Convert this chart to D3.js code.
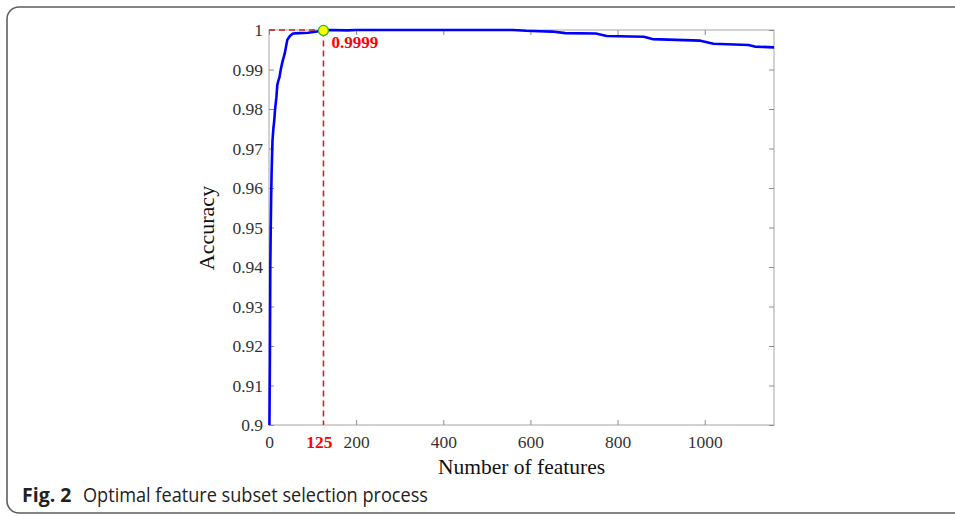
<!DOCTYPE html>
<html><head><meta charset="utf-8">
<script src="https://cdn.jsdelivr.net/npm/d3@7"></script>
<style>html,body{margin:0;padding:0;background:#fff;}svg{display:block;}</style>
</head><body>
<svg id="chart" width="955" height="516"></svg>
<script>
// ---- data ----
const featureCounts = [1,2,3,4,5,6,7,8,10,12,14,17,19,21,24,27,31,36,42,48,55,70,90,110,125,140,180,200,300,400,500,560,590,620,650,680,750,775,860,880,990,1020,1100,1115,1159];
const accuracy =      [0.900,0.915,0.940,0.950,0.958,0.964,0.968,0.972,0.975,0.977,0.980,0.983,0.986,0.987,0.988,0.990,0.992,0.994,0.9975,0.9985,0.9991,0.9992,0.9993,0.9996,0.9999,1.0,0.9999,1.0,1.0,1.0,1.0,1.0,0.9998,0.9997,0.9996,0.9992,0.9991,0.9985,0.9983,0.9977,0.9973,0.9965,0.9962,0.9958,0.9956];
const xTicks = [0,200,400,600,800,1000];
const yTicks = [0.9,0.91,0.92,0.93,0.94,0.95,0.96,0.97,0.98,0.99,1];
const optimalFeatures = [125];
const optimalAccuracy = [0.9999];
const xDomain = [0,1159];
const yDomain = [0.9,1];

const svg = d3.select("#chart");
// figure frame
svg.append("rect").attr("x",7).attr("y",7).attr("width",1010).attr("height",506)
  .attr("rx",12).attr("fill","none").attr("stroke","#5e5e5e").attr("stroke-width",1.6);

const L=269,R=774,T=30,B=425;
const x = d3.scaleLinear().domain(xDomain).range([L,R]);
const y = d3.scaleLinear().domain(yDomain).range([B,T]);
const serif = "'Liberation Serif','Times New Roman',serif";

// box
svg.append("rect").attr("x",L).attr("y",T).attr("width",R-L).attr("height",B-T)
  .attr("fill","none").attr("stroke","#a6a6a6").attr("stroke-width",1);

function styleAxis(g){
  g.select(".domain").remove();
  g.selectAll(".tick line").attr("stroke","#8c8c8c");
  g.selectAll(".tick text").attr("fill","#333").style("font-family",serif).style("font-size","17.5px");
}
const fmtY = d => d===1 ? "1" : d===0.9 ? "0.9" : d3.format(".2f")(d);
svg.append("g").attr("transform",`translate(0,${B})`)
  .call(d3.axisBottom(x).tickValues(xTicks).tickSize(-5).tickPadding(10.5).tickFormat(d3.format("d")))
  .call(styleAxis);
svg.append("g").attr("transform",`translate(0,${T})`)
  .call(d3.axisTop(x).tickValues(xTicks).tickSize(-5).tickFormat(""))
  .call(styleAxis);
svg.append("g").attr("transform",`translate(${L},0)`)
  .call(d3.axisLeft(y).tickValues(yTicks).tickSize(-5).tickPadding(6).tickFormat(fmtY))
  .call(styleAxis);
svg.append("g").attr("transform",`translate(${R},0)`)
  .call(d3.axisRight(y).tickValues(yTicks).tickSize(-5).tickFormat(""))
  .call(styleAxis);

// reference dashed lines
const ox = x(optimalFeatures[0]), oy = y(optimalAccuracy[0]);
svg.append("line").attr("x1",L).attr("x2",ox).attr("y1",y(1)).attr("y2",y(1))
  .attr("stroke","#d42020").attr("stroke-width",1.6).attr("stroke-dasharray","6,4");
svg.append("line").attr("x1",ox).attr("x2",ox).attr("y1",oy).attr("y2",B)
  .attr("stroke","#d42020").attr("stroke-width",1.6).attr("stroke-dasharray","6,4");

// curve
const line = d3.line().x((d,i)=>x(featureCounts[i])).y(d=>y(d));
svg.append("path").datum(accuracy).attr("d",line).attr("fill","none")
  .attr("stroke","#0000ff").attr("stroke-width",2.6).attr("stroke-linejoin","round");

// optimal point
svg.append("circle").attr("cx",ox).attr("cy",oy).attr("r",5)
  .attr("fill","#ffff00").attr("stroke","#2db52d").attr("stroke-width",1.3);

// annotations
svg.append("text").attr("x",ox+8).attr("y",48).text(d3.format(".4f")(optimalAccuracy[0]))
  .attr("fill","#ff0000").style("font-family",serif).style("font-size","17px").style("font-weight","bold");
svg.append("text").attr("x",ox-4).attr("y",448).attr("text-anchor","middle").text(String(optimalFeatures[0]))
  .attr("fill","#ff0000").style("font-family",serif).style("font-size","17.5px").style("font-weight","bold");

// axis titles
svg.append("text").attr("x",(L+R)/2).attr("y",474).attr("text-anchor","middle")
  .text("Number of features").attr("fill","#111").style("font-family",serif).style("font-size","21.5px");
svg.append("text").attr("transform",`translate(214,228) rotate(-90)`).attr("text-anchor","middle")
  .text("Accuracy").attr("fill","#111").style("font-family",serif).style("font-size","22px");

// caption
const cap = svg.append("text").attr("x",22).attr("y",502).style("font-family","'Open Sans','Noto Sans',sans-serif").style("font-size","19.5px").attr("fill","#222");
cap.append("tspan").text("Fig. 2").style("font-weight","bold");
cap.append("tspan").attr("x",83).text("Optimal feature subset selection process").attr("textLength",345).attr("lengthAdjust","spacingAndGlyphs");
</script>
</body></html>
